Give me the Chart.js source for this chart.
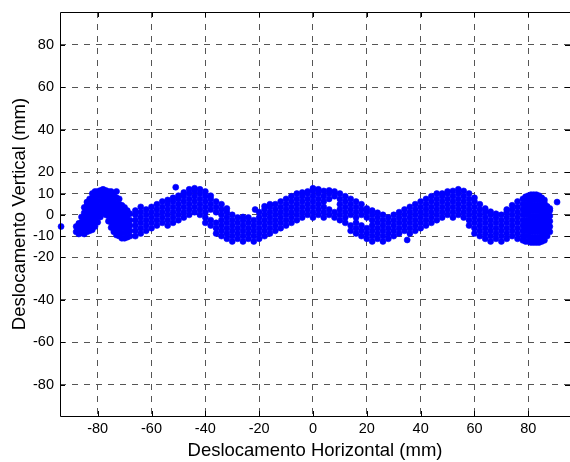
<!DOCTYPE html>
<html>
<head>
<meta charset="utf-8">
<script src="https://cdn.jsdelivr.net/npm/chart.js@4"></script>
<style>
body { margin: 0; background: #fff; }
</style>
</head>
<body>
<canvas id="myChart" width="570" height="462"></canvas>
<script>
const xTicks = [-80, -60, -40, -20, 0, 20, 40, 60, 80];
const yTicks = [-80, -60, -40, -20, -10, 0, 10, 20, 40, 60, 80];

// each row: horizontal position first, then the vertical values read at it (mm)
const hookLeft = [
  [-93.6, -5.5],
  [-88, -8, -5.5],
  [-87, -9, -6.5, -4],
  [-86, -8.5, -6, -3.5, -1],
  [-85, -9, -6.5, -4, -1.5, 1, 3.5],
  [-84, -8, -5.5, -3, -0.5, 2, 4.5, 6],
  [-83, -7.5, -5, -2.5, 0, 2.5, 5, 7.5],
  [-82, -7, -4.5, -2, 0.5, 3, 5.5, 8, 10],
  [-81, -5.5, -3, -0.5, 2, 4.5, 7, 9.5, 11],
  [-80, -3.5, -1, 1.5, 4, 6.5, 9, 11],
  [-79, -1, 1.5, 4, 6.5, 9, 11.5],
  [-78, 1, 3.5, 6, 8.5, 11, 12],
  [-77, 0, 2.5, 5, 7.5, 10, 11.5],
  [-76, -3, -0.5, 2, 4.5, 7, 9.5, 11],
  [-75, -6, -3.5, -1, 1.5, 4, 6.5, 9, 11],
  [-74, -8, -5.5, -3, -0.5, 2, 4.5, 7, 10],
  [-73, -9.5, -7, -4.5, -2, 0.5, 3, 5.5, 8, 11],
  [-72, -10, -7.5, -5, -2.5, 0, 2.5, 5, 7.5],
  [-71, -11, -8.5, -6, -3.5, -1, 1.5, 4.5],
  [-70, -11, -8.5, -6, -3.5, -1, 1.5, 3.5],
  [-69, -10.5, -8, -5.5, -3, -0.5, 2],
  [-68, -10, -7.5, -5, -2.5, 0.5]
];

const crestOne = [
  [-66, -10, -7.5, -5, -2.5, 0, 2],
  [-64, -8.75, -6.25, -3.75, -1.25, 1.25, 3.75],
  [-62, -7.5, -5, -2.5, 0, 2.5],
  [-60, -6.25, -3.75, -1.25, 1.25, 3.75],
  [-58, -5, -2.5, 0, 2.5, 5],
  [-56, -3.75, -1.25, 1.25, 3.75, 6.25],
  [-54, -5, -2.5, 0, 2.5, 5, 7],
  [-52, -3.75, -1.25, 1.25, 3.75, 6.25, 8],
  [-51, 13],
  [-50, -2.5, 0, 2.5, 5, 7.5, 9],
  [-48, -1.25, 1.25, 3.75, 6.25, 8.75, 10.5],
  [-46, 0, 2.5, 5, 7.5, 10, 12],
  [-44, 1.25, 3.75, 6.25, 8.75, 11.25, 12.5],
  [-42, 0, 2.5, 5, 7.5, 10, 12],
  [-40, -3.75, -1.25, 1.25, 3.75, 6.25, 8.75, 11],
  [-38, -5, -2.5, 2.5, 5, 7.5, 9]
];

const troughOne = [
  [-36, -8.75, -6.25, -3.75, 1.25, 3.75, 6.25],
  [-34, -10, -7.5, -5, -2.5, 0, 2.5, 5],
  [-32, -11.25, -8.75, -6.25, -3.75, -1.25, 1.25, 3],
  [-30, -12.5, -10, -7.5, -5, -2.5, 0],
  [-28, -11.25, -8.75, -6.25, -3.75, -1.25],
  [-26, -12.5, -10, -7.5, -5, -2.5, -1],
  [-24, -11.25, -8.75, -6.25, -3.75, -1.25],
  [-22, -12.5, -10, -7.5, -5, -2.5],
  [-21.5, 2.5],
  [-20, -11.25, -8.75, -6.25, -3.75, -1.25, 1.25]
];

const crestTwo = [
  [-18, -10, -7.5, -5, -2.5, 0, 2.5, 4],
  [-16, -8.75, -6.25, -3.75, -1.25, 1.25, 3.75, 5],
  [-14, -7.5, -5, -2.5, 0, 2.5, 5],
  [-12, -6.25, -3.75, -1.25, 1.25, 3.75, 6.25],
  [-10, -5, -2.5, 0, 2.5, 5, 7.5],
  [-8, -3.75, -1.25, 1.25, 3.75, 6.25, 8.75],
  [-6, -2.5, 0, 2.5, 5, 7.5, 10],
  [-4, -1.25, 1.25, 3.75, 6.25, 8.75, 10.5],
  [-2, 0, 2.5, 5, 7.5, 10, 11],
  [0, -1.25, 1.25, 3.75, 6.25, 8.75, 11.25, 12.5],
  [2, 0, 2.5, 5, 7.5, 10, 12],
  [4, -1.25, 1.25, 3.75, 6.25, 8.75, 11.25],
  [6, 0, 2.5, 7.5, 10, 11.5],
  [8, -1.25, 1.25, 8.75, 11],
  [10, -2.5, 0, 2.5, 5, 7.5, 10],
  [12, -3.75, -1.25, 1.25, 3.75, 6.25, 8.75],
  [14, -7.5, -5, 0, 2.5, 5, 7.5],
  [16, -8.75, -6.25, -3.75, -1.25, 1.25, 3.75, 6.25],
  [18, -10, -7.5, -5, 0, 2.5, 5]
];

const troughTwo = [
  [20, -11.25, -8.75, -6.25, -1.25, 1.25, 3],
  [22, -12.5, -10, -7.5, -5, -2.5, 0, 2],
  [24, -11.25, -8.75, -6.25, -3.75, -1.25, 1],
  [26, -12.5, -10, -7.5, -5, -2.5, 0],
  [28, -11.25, -8.75, -6.25, -3.75, -1.25],
  [30, -10, -7.5, -5, -2.5, 0],
  [32, -8.75, -6.25, -3.75, -1.25, 1.25],
  [34, -7.5, -5, -2.5, 0, 2.5],
  [35, -11.8]
];

const crestThree = [
  [36, -8.75, -6.25, -3.75, -1.25, 1.25, 3.75],
  [38, -7.5, -5, -2.5, 0, 2.5, 5],
  [40, -6.25, -3.75, -1.25, 1.25, 3.75, 6.25],
  [42, -5, -2.5, 0, 2.5, 5, 7.5],
  [44, -3.75, -1.25, 1.25, 3.75, 6.25, 8.75],
  [46, -2.5, 0, 2.5, 5, 7.5, 10],
  [48, -1.25, 1.25, 3.75, 6.25, 8.75, 10],
  [50, 0, 2.5, 5, 7.5, 10, 11],
  [52, -1.25, 1.25, 3.75, 6.25, 8.75, 11.25],
  [54, 0, 2.5, 5, 7.5, 10, 12],
  [56, -1.25, 1.25, 3.75, 6.25, 8.75, 11.25],
  [58, -5, -2.5, 0, 2.5, 5, 7.5, 10]
];

const hookRight = [
  [60, -8.75, -6.25, -3.75, -1.25, 1.25, 3.75, 6.25, 8],
  [62, -10, -7.5, -5, -2.5, 0, 2.5, 5],
  [64, -11.25, -8.75, -6.25, -3.75, -1.25, 1.25, 3],
  [66, -12.5, -10, -7.5, -5, -2.5, 0, 1.5],
  [68, -11.25, -8.75, -6.25, -3.75, -1.25, 0.5],
  [70, -12.5, -10, -7.5, -5, -2.5, 0],
  [72, -11.25, -8.75, -6.25, -3.75, -1.25, 1.25, 2.5],
  [74, -10, -7.5, -5, -2.5, 0, 2.5, 4.5],
  [76, -11.25, -8.75, -6.25, -3.75, -1.25, 1.25, 3.75, 6.25],
  [78, -12, -10, -7.5, -5, -2.5, 0, 2.5, 5, 7.5],
  [79, -12.5, -10, -7.5, -5, -2.5, 0, 2.5, 5, 7.5, 8.5],
  [80, -12.5, -10, -7.5, -5, -2.5, 0, 2.5, 5, 7.5, 9],
  [81, -13, -10.5, -8, -5.5, -3, -0.5, 2, 4.5, 7, 9.5],
  [82, -13, -10.5, -8, -5.5, -3, -0.5, 2, 4.5, 7, 9.5],
  [83, -13, -10.5, -8, -5.5, -3, -0.5, 2, 4.5, 7, 9.5],
  [84, -13, -10.5, -8, -5.5, -3, -0.5, 2, 4.5, 7, 9],
  [85, -12.5, -10, -7.5, -5, -2.5, 0, 2.5, 5, 8],
  [86, -12, -9.5, -7, -4.5, -2, 0.5, 3, 5.5, 7],
  [87, -10, -7.5, -5, -2.5, 0, 2.5, 4],
  [88, -8, -5.5, -3, -0.5, 2, 3],
  [90.7, 6]
];

function toPoints(rows) {
  var pts = [];
  rows.forEach(function(r) {
    for (var i = 1; i < r.length; i++) pts.push({x: r[0], y: r[i]});
  });
  return pts;
}

var allPoints = [].concat(
  toPoints(hookLeft), toPoints(crestOne), toPoints(troughOne),
  toPoints(crestTwo), toPoints(troughTwo), toPoints(crestThree), toPoints(hookRight)
);

// box round the plot plus the little inward ticks, matlab style
const frame = {
  id: 'frame',
  afterDraw(chart) {
    var ctx = chart.ctx, a = chart.chartArea;
    var xs = chart.scales.x, ys = chart.scales.y;
    ctx.save();
    ctx.strokeStyle = '#000';
    ctx.lineWidth = 1;
    ctx.beginPath();
    ctx.rect(Math.round(a.left) + 0.5, Math.round(a.top) + 0.5, Math.round(a.right - a.left), Math.round(a.bottom - a.top));
    xTicks.forEach(function(v) {
      var p = Math.round(xs.getPixelForValue(v)) + 0.5;
      ctx.moveTo(p, a.top); ctx.lineTo(p, a.top + 5);
      ctx.moveTo(p, a.bottom); ctx.lineTo(p, a.bottom - 5);
    });
    yTicks.forEach(function(v) {
      var p = Math.round(ys.getPixelForValue(v)) + 0.5;
      ctx.moveTo(a.left, p); ctx.lineTo(a.left + 5, p);
      ctx.moveTo(a.right, p); ctx.lineTo(a.right - 5, p);
    });
    ctx.stroke();
    ctx.restore();
  }
};

var ctx = document.getElementById('myChart').getContext('2d');
var myChart = new Chart(ctx, {
  type: 'scatter',
  data: {
    datasets: [{
      data: allPoints,
      backgroundColor: 'rgb(0, 0, 255)',
      borderColor: 'rgb(0, 0, 255)',
      pointRadius: 3,
      pointBorderWidth: 0.6,
      pointHoverRadius: 3,
      clip: false
    }]
  },
  options: {
    responsive: false,
    animation: false,
    events: [],
    layout: { autoPadding: false, padding: { top: 12, right: 0, left: 0, bottom: 0 } },
    plugins: { legend: { display: false }, tooltip: { enabled: false } },
    scales: {
      x: {
        type: 'linear',
        min: -94,
        max: 95.5,
        afterBuildTicks: function(scale) { scale.ticks = xTicks.map(function(v) { return {value: v}; }); },
        afterFit: function(scale) { scale.height = 46; scale.paddingLeft = 0; scale.paddingRight = 0; },
        border: { display: false, dash: [6, 6] },
        grid: { color: '#555', lineWidth: 1, drawTicks: false },
        ticks: { color: '#000', padding: 4, font: { family: 'Arial', size: 14.5 } },
        title: { display: true, text: 'Deslocamento Horizontal (mm)', color: '#000', padding: 0, font: { family: 'Arial', size: 18.5 } }
      },
      y: {
        type: 'linear',
        min: -94.6,
        max: 95.4,
        afterBuildTicks: function(scale) { scale.ticks = yTicks.map(function(v) { return {value: v}; }); },
        afterFit: function(scale) { scale.width = 60; scale.paddingTop = 0; scale.paddingBottom = 0; },
        border: { display: false, dash: [6, 6] },
        grid: { color: '#555', lineWidth: 1, drawTicks: false },
        ticks: { color: '#000', padding: 6, font: { family: 'Arial', size: 14.5 } },
        title: { display: true, text: 'Deslocamento Vertical (mm)', color: '#000', padding: { top: 9, bottom: 0 }, font: { family: 'Arial', size: 18.5 } }
      }
    }
  },
  plugins: [frame]
});
</script>
</body>
</html>
